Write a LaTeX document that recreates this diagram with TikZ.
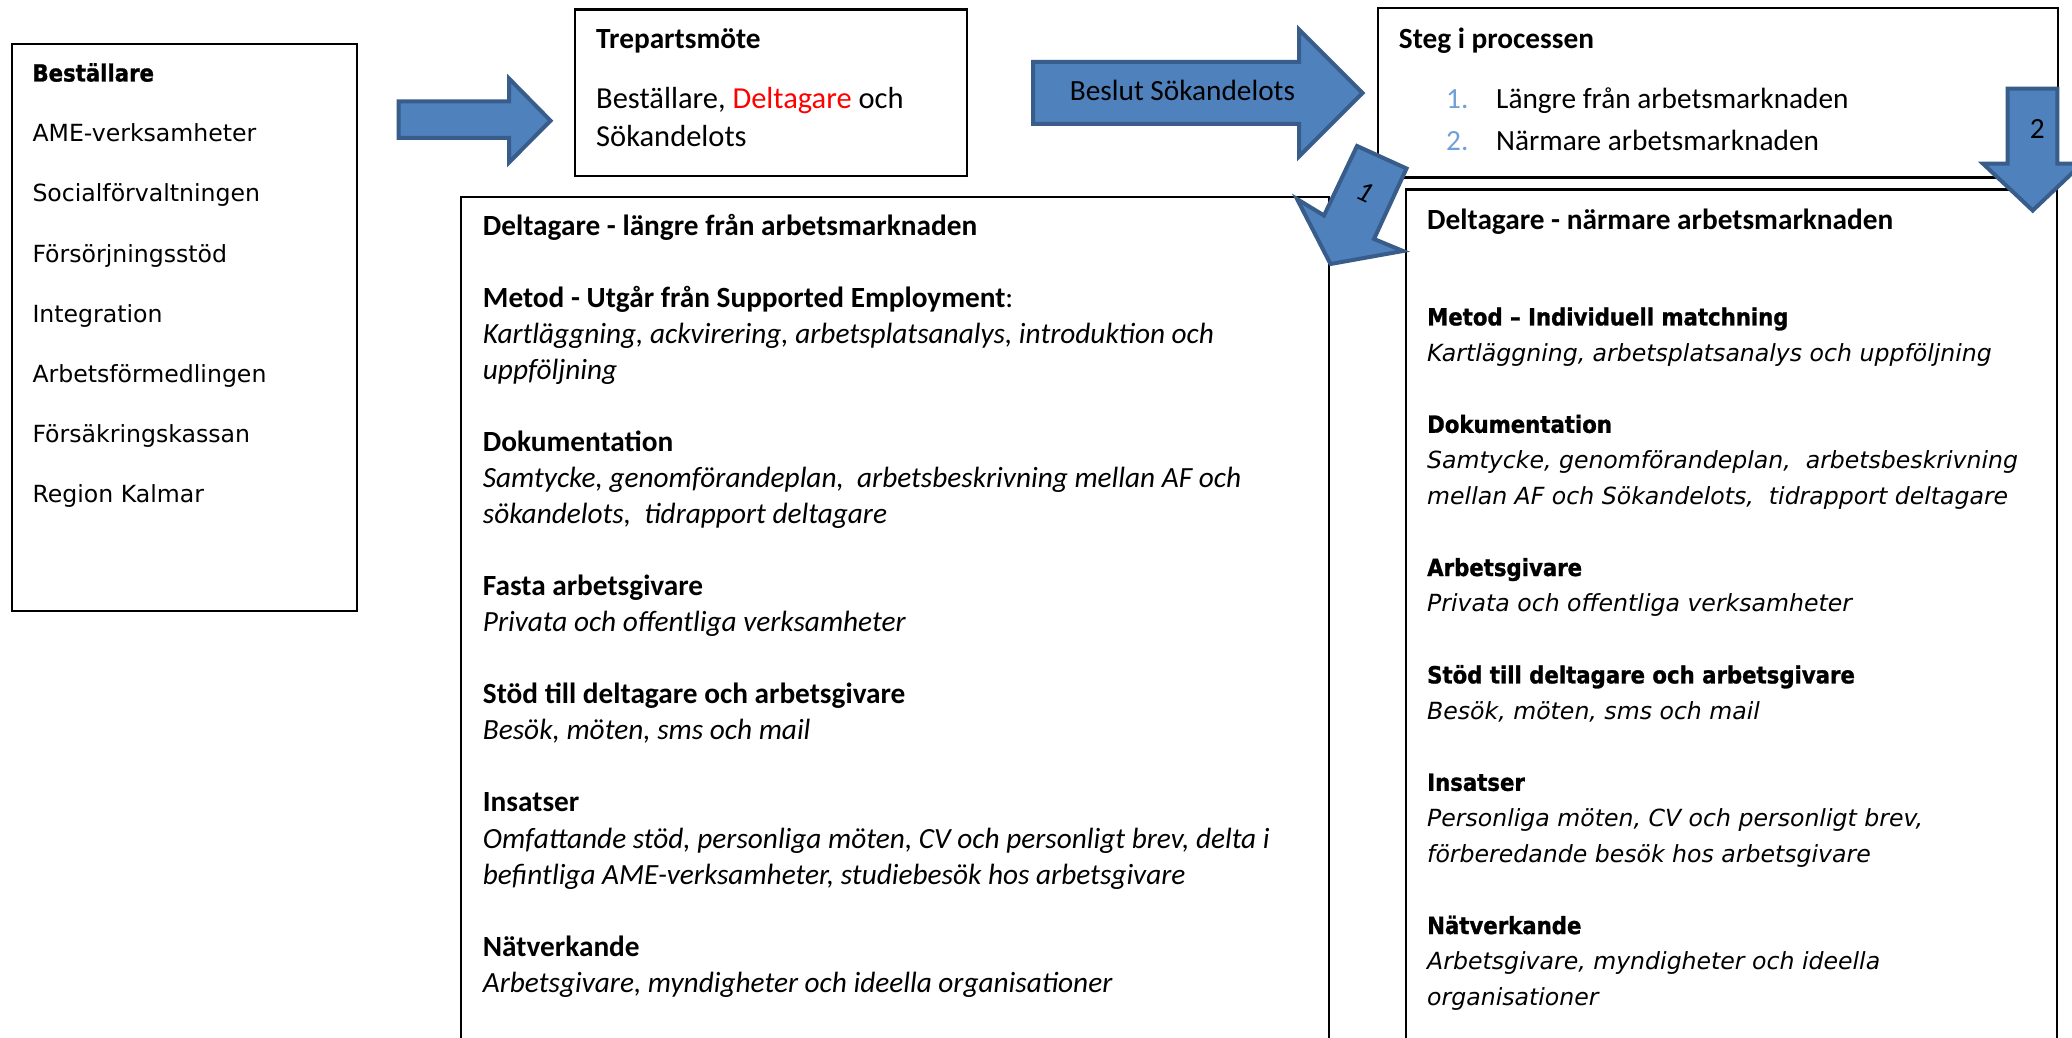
\documentclass[tikz,border=0pt]{standalone}
\usepackage{fontspec}
\setmainfont{Carlito}
\newfontfamily\verd[BoldFeatures={FakeStretch=0.9,FakeBold=1.2}]{DejaVu Sans}
\definecolor{arrfill}{RGB}{79,129,189}
\definecolor{arrdraw}{RGB}{56,93,138}
\definecolor{numblue}{RGB}{112,160,214}
\begin{document}
\begin{tikzpicture}[x=1pt,y=-1pt,
  boxline/.style={draw=black,line width=2.2pt},
  arrowshape/.style={fill=arrfill,draw=arrdraw,line width=4pt,line join=miter},
  cal/.style={font=\fontsize{29.3}{36.06}\selectfont, inner sep=0pt, anchor=base west},
  ver/.style={font=\verd\fontsize{23.6}{35.8}\selectfont, inner sep=0pt, anchor=base west},
  lab/.style={font=\fontsize{29.3}{32}\selectfont, inner sep=0pt}]

\fill[white] (0,0) rectangle (2072,1038);
\useasboundingbox (0,0) rectangle (2072,1038);

% boxes
\draw[boxline] (12,44) rectangle (357,611);
\draw[boxline] (575,9.5) rectangle (967,176);
\draw[boxline] (1378,8) rectangle (2058,177.5);
\draw[boxline] (460.7,1050) -- (460.7,197.3) -- (1329.3,197.3) -- (1329.3,1050);
\draw[boxline] (1405.7,1050) -- (1405.7,189.5) -- (2057,189.5) -- (2057,1050);

% left box
\node[ver] (b0) at (32.3,81.5) {\bfseries Beställare};
\node[ver] (b1) at (32.3,141.7) {AME-verksamheter};
\node[ver] (b2) at (32.3,201.9) {Socialförvaltningen};
\node[ver] (b3) at (32.3,262.1) {Försörjningsstöd};
\node[ver] (b4) at (32.3,322.3) {Integration};
\node[ver] (b5) at (32.3,382.5) {Arbetsförmedlingen};
\node[ver] (b6) at (32.3,442.7) {Försäkringskassan};
\node[ver] (b7) at (32.3,502.9) {Region Kalmar};

% Trepartsmöte
\node[cal] (t0) at (596,48.3) {\bfseries Trepartsmöte};
\node[cal, font=\fontsize{30.5}{36}\selectfont] (t1) at (596,108.3) {Beställare, \textcolor{red}{Deltagare} och};
\node[cal, font=\fontsize{30.5}{36}\selectfont] (t2) at (596,146.7) {Sökandelots};

% Steg i processen
\node[cal] (s0) at (1398.7,48.3) {\bfseries Steg i processen};
\node[cal, text=numblue] (n1) at (1446,108.3) {1.};
\node[cal] (s1) at (1496,108.3) {Längre från arbetsmarknaden};
\node[cal, text=numblue] (n2) at (1446,150) {2.};
\node[cal] (s2) at (1496,150) {Närmare arbetsmarknaden};

% middle box
\node[cal] (mid) at (482.7,235) {\begin{tabular}[t]{@{}l@{}}
\textbf{Deltagare - längre från arbetsmarknaden}\\
\\
\textbf{Metod - Utgår från Supported Employment}:\\
\textit{Kartläggning, ackvirering, arbetsplatsanalys, introduktion och}\\
\textit{uppföljning}\\
\\
\textbf{Dokumentation}\\
\textit{Samtycke, genomförandeplan,~ arbetsbeskrivning mellan AF och}\\
\textit{sökandelots,~ tidrapport deltagare}\\
\\
\textbf{Fasta arbetsgivare}\\
\textit{Privata och offentliga verksamheter}\\
\\
\textbf{Stöd till deltagare och arbetsgivare}\\
\textit{Besök, möten, sms och mail}\\
\\
\textbf{Insatser}\\
\textit{Omfattande stöd, personliga möten, CV och personligt brev, delta i}\\
\textit{befintliga AME-verksamheter, studiebesök hos arbetsgivare}\\
\\
\textbf{Nätverkande}\\
\textit{Arbetsgivare, myndigheter och ideella organisationer}
\end{tabular}};

% right box
\node[cal] (rt) at (1427,229.4) {\bfseries Deltagare - närmare arbetsmarknaden};
\node[ver] (rb) at (1427,325.4) {\begin{tabular}[t]{@{}l@{}}
\textbf{Metod – Individuell matchning}\\
\textit{Kartläggning, arbetsplatsanalys och uppföljning}\\
\\
\textbf{Dokumentation}\\
\textit{Samtycke, genomförandeplan,~ arbetsbeskrivning}\\
\textit{mellan AF och Sökandelots,~ tidrapport deltagare}\\
\\
\textbf{Arbetsgivare}\\
\textit{Privata och offentliga verksamheter}\\
\\
\textbf{Stöd till deltagare och arbetsgivare}\\
\textit{Besök, möten, sms och mail}\\
\\
\textbf{Insatser}\\
\textit{Personliga möten, CV och personligt brev,}\\
\textit{förberedande besök hos arbetsgivare}\\
\\
\textbf{Nätverkande}\\
\textit{Arbetsgivare, myndigheter och ideella}\\
\textit{organisationer}
\end{tabular}};

% block arrows
\draw[arrowshape] (398.7,101.3) -- (509,101.3) -- (509,78.5) -- (550.5,120.7) -- (509,162.5) -- (509,138) -- (398.7,138) -- cycle;
\draw[arrowshape] (1033,62) -- (1299,62) -- (1299,29.5) -- (1362.5,93) -- (1299,156.5) -- (1299,124) -- (1033,124) -- cycle;
\draw[arrowshape] (1357,146) -- (1406.5,168.5) -- (1374,239) -- (1403,251) -- (1330.5,264) -- (1297,199) -- (1324,215.5) -- cycle;
\draw[arrowshape] (2007.7,88.7) -- (2057.3,88.7) -- (2057.3,163.7) -- (2082,163.7) -- (2032.7,210.5) -- (1983,163.7) -- (2007.7,163.7) -- cycle;

% arrow labels
\node[lab, anchor=base] (beslut) at (1182.5,100.7) {Beslut Sökandelots};
\node[lab, font=\itshape\fontsize{29.3}{32}\selectfont, rotate=-25] (l1) at (1365,191.7) {1};
\node[lab] (l2) at (2037.3,129.3) {2};
\end{tikzpicture}
\end{document}
